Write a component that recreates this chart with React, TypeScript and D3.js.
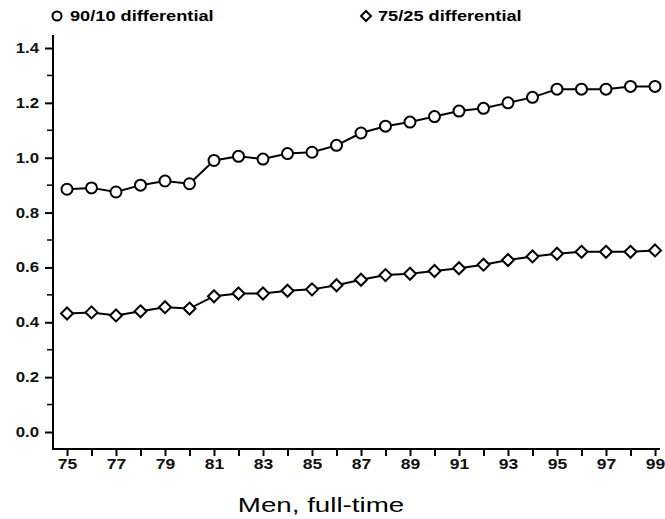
import * as React from "react";
import { useEffect, useRef } from "react";
import { select, scaleLinear, axisLeft, axisBottom, line, range } from "d3";

const years = range(75, 100);
const p9010 = [
  0.885, 0.89, 0.875, 0.9, 0.915, 0.905, 0.99, 1.005, 0.995, 1.015, 1.02, 1.045, 1.09,
  1.115, 1.13, 1.15, 1.17, 1.18, 1.2, 1.22, 1.25, 1.25, 1.25, 1.26, 1.26,
];
const p7525 = [
  0.432, 0.436, 0.425, 0.44, 0.455, 0.45, 0.495, 0.505, 0.505, 0.515, 0.52, 0.535, 0.555,
  0.572, 0.577, 0.587, 0.597, 0.61, 0.627, 0.64, 0.65, 0.657, 0.657, 0.657, 0.662,
];
const yTicks = [0, 0.2, 0.4, 0.6, 0.8, 1.0, 1.2, 1.4];
const yMinor = [0.1, 0.3, 0.5, 0.7, 0.9, 1.1, 1.3];
const xLabels = [75, 77, 79, 81, 83, 85, 87, 89, 91, 93, 95, 97, 99];

const font = "'Liberation Sans', Arial, sans-serif";

// the scanned chart has wide lettering, so stretch text horizontally
function stretch(sel: any, k: number) {
  sel.each(function (this: SVGTextElement) {
    const len = this.getComputedTextLength();
    if (len > 0) {
      select(this).attr("textLength", len * k).attr("lengthAdjust", "spacingAndGlyphs");
    }
  });
}

function App() {
  const svgRef = useRef<SVGSVGElement>(null);

  useEffect(() => {
    const svg = select(svgRef.current);
    svg.selectAll("*").remove();

    const x = scaleLinear().domain([75, 99]).range([67, 655]);
    const y = scaleLinear().domain([0, 1.4]).range([432, 48]);

    // axis lines
    svg.append("line").attr("x1", 53).attr("x2", 53).attr("y1", 35).attr("y2", 450)
      .attr("stroke", "#000").attr("stroke-width", 2);
    svg.append("line").attr("x1", 52).attr("x2", 660).attr("y1", 449).attr("y2", 449)
      .attr("stroke", "#000").attr("stroke-width", 2);

    const yAxis: any = axisLeft(y).tickValues(yTicks).tickSize(8).tickPadding(6)
      .tickFormat((d: any) => (+d).toFixed(1));
    const gy = svg.append("g").attr("transform", "translate(53,0)").call(yAxis);
    gy.select(".domain").remove();
    gy.selectAll("line").attr("stroke-width", 2);
    gy.selectAll("text").attr("font-family", font).attr("font-size", 14)
      .attr("font-weight", "bold").attr("fill", "#111");
    stretch(gy.selectAll("text"), 1.2);

    svg.append("g").selectAll("line").data(yMinor).join("line")
      .attr("x1", 47).attr("x2", 53).attr("y1", (d) => y(d)).attr("y2", (d) => y(d))
      .attr("stroke", "#000").attr("stroke-width", 1.5);

    const xAxis: any = axisBottom(x).tickValues(years).tickSize(7).tickPadding(3)
      .tickFormat((d: any) => (xLabels.includes(+d) ? String(d) : ""));
    const gx = svg.append("g").attr("transform", "translate(0,449)").call(xAxis);
    gx.select(".domain").remove();
    gx.selectAll("line").attr("stroke-width", 2);
    gx.selectAll("text").attr("font-family", font).attr("font-size", 14)
      .attr("font-weight", "bold").attr("fill", "#111");
    stretch(gx.selectAll("text"), 1.25);

    const path = line<number>().x((d, i) => x(years[i])).y((d) => y(d));

    [p9010, p7525].forEach((s) => {
      svg.append("path").attr("d", path(s)).attr("fill", "none")
        .attr("stroke", "#000").attr("stroke-width", 2);
    });

    svg.append("g").selectAll("circle").data(p9010).join("circle")
      .attr("cx", (d, i) => x(years[i])).attr("cy", (d) => y(d)).attr("r", 5.5)
      .attr("fill", "#fff").attr("stroke", "#000").attr("stroke-width", 2);

    svg.append("g").selectAll("path").data(p7525).join("path")
      .attr("transform", (d, i) => `translate(${x(years[i])},${y(d)})`)
      .attr("d", "M0,-6L6,0L0,6L-6,0Z")
      .attr("fill", "#fff").attr("stroke", "#000").attr("stroke-width", 2);

    // legend
    svg.append("circle").attr("cx", 57).attr("cy", 16).attr("r", 4.5)
      .attr("fill", "#fff").attr("stroke", "#000").attr("stroke-width", 2);
    const l1 = svg.append("text").attr("x", 70).attr("y", 21).text("90/10 differential")
      .attr("font-family", font).attr("font-size", 14).attr("font-weight", "bold");
    svg.append("path").attr("transform", "translate(366,16)").attr("d", "M0,-5L5,0L0,5L-5,0Z")
      .attr("fill", "#fff").attr("stroke", "#000").attr("stroke-width", 2);
    const l2 = svg.append("text").attr("x", 378).attr("y", 21).text("75/25 differential")
      .attr("font-family", font).attr("font-size", 14).attr("font-weight", "bold");
    stretch(l1, 1.3);
    stretch(l2, 1.3);

    const title = svg.append("text").attr("x", 321).attr("y", 512).attr("text-anchor", "middle")
      .text("Men, full-time").attr("font-family", font).attr("font-size", 21);
    stretch(title, 1.32);
  }, []);

  return (
    <svg
      ref={svgRef}
      width={665}
      height={519}
      style={{ position: "absolute", left: 0, top: 0, background: "#fff" }}
    />
  );
}

export default App;
